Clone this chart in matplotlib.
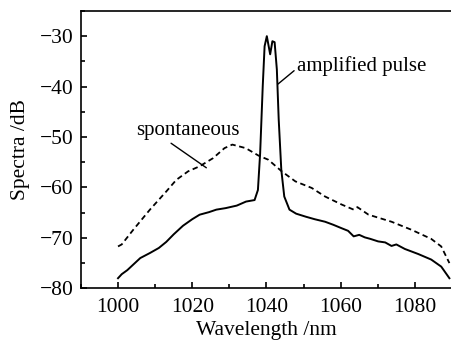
import numpy as np
import matplotlib.pyplot as plt
from matplotlib.ticker import MultipleLocator

# amplified pulse (solid)
amp_wl = [1000, 1001, 1002.5, 1004.1, 1006, 1008.6, 1011, 1013, 1015, 1017.5, 1020, 1022,
          1024.5, 1026.5, 1029, 1032, 1034.5, 1036.8, 1037.7, 1038.3, 1039.0, 1039.5, 1040.1,
          1041.0, 1041.6, 1042.2, 1042.8, 1043.3, 1044.0, 1044.8, 1046.2, 1048, 1050.6,
          1053, 1055.8, 1058, 1060.3, 1062, 1063.5, 1065, 1066.5, 1068, 1070.1, 1072, 1073.7,
          1075, 1077.3, 1080.9, 1084.4, 1087.1, 1089.3]
amp_db = [-78.0, -77.2, -76.4, -75.3, -74.0, -73.0, -72.0, -70.8, -69.3, -67.6, -66.3, -65.4,
          -64.9, -64.4, -64.1, -63.6, -62.8, -62.5, -60.5, -53.2, -39.9, -32.0, -30.0,
          -33.6, -31.0, -31.2, -36.6, -46.5, -56.5, -61.8, -64.4, -65.2, -65.8,
          -66.3, -66.8, -67.4, -68.1, -68.6, -69.7, -69.4, -69.9, -70.2, -70.7, -70.9, -71.6,
          -71.3, -72.2, -73.2, -74.3, -75.7, -78.0]

# spontaneous (dashed)
spo_wl = [1000, 1001, 1004.1, 1008.6, 1013, 1015.7, 1018.9, 1022, 1025.6, 1028.7, 1030.8, 1034.4,
          1037.9, 1040.5, 1044.1, 1047.8, 1052.2, 1055.8, 1060.3, 1063.5, 1064.5, 1067.5, 1073.7,
          1079.1, 1084.4, 1087.1, 1089.3]
spo_db = [-71.7, -71.3, -68.4, -64.4, -60.8, -58.5, -56.8, -55.8, -54.2, -52.2, -51.5, -52.2,
          -53.7, -54.5, -56.8, -58.8, -60.1, -61.8, -63.4, -64.4, -63.9, -65.4, -66.8,
          -68.4, -70.2, -71.7, -75.0]

plt.rcParams['font.family'] = ['Liberation Serif', 'DejaVu Serif']
plt.rcParams['font.size'] = 15.5

fig = plt.figure(figsize=(4.52, 3.42), dpi=100)
ax = fig.add_axes([0.179, 0.157, 0.821, 0.811])

ax.plot(amp_wl, amp_db, color='black', lw=1.4)
ax.plot(spo_wl, spo_db, color='black', lw=1.3, dashes=(3, 2))

ax.set_xlim(990, 1090)
ax.set_ylim(-80, -25)
ax.xaxis.set_major_locator(MultipleLocator(20))
ax.xaxis.set_minor_locator(MultipleLocator(10))
ax.yaxis.set_major_locator(MultipleLocator(10))
ax.yaxis.set_minor_locator(MultipleLocator(5))
ax.tick_params(which='both', direction='in', top=False, right=False, width=1.2)
ax.tick_params(which='major', length=4)
ax.tick_params(which='minor', length=3)
ax.tick_params(axis='x', which='major', pad=7)
ax.tick_params(axis='y', which='major', pad=5)
ax.spines['right'].set_visible(False)
for s in ['left', 'bottom', 'top']:
    ax.spines[s].set_linewidth(1.2)

ax.set_xlabel('Wavelength /nm', labelpad=3)
ax.set_ylabel('Spectra /dB', labelpad=7)

ax.annotate('amplified pulse', xy=(1043.1, -39.5), xytext=(1048.2, -36.0),
            ha='left', va='center', fontsize=15,
            arrowprops=dict(arrowstyle='-', color='black', lw=1, shrinkA=0, shrinkB=0,
                            relpos=(0, 0.4)))
ax.annotate('spontaneous', xy=(1023.8, -56.1), xytext=(1018.8, -48.8),
            ha='center', va='center', fontsize=15,
            arrowprops=dict(arrowstyle='-', color='black', lw=1, shrinkA=0, shrinkB=0,
                            relpos=(0.3, 0)))

fig.savefig('out.png', dpi=100)
